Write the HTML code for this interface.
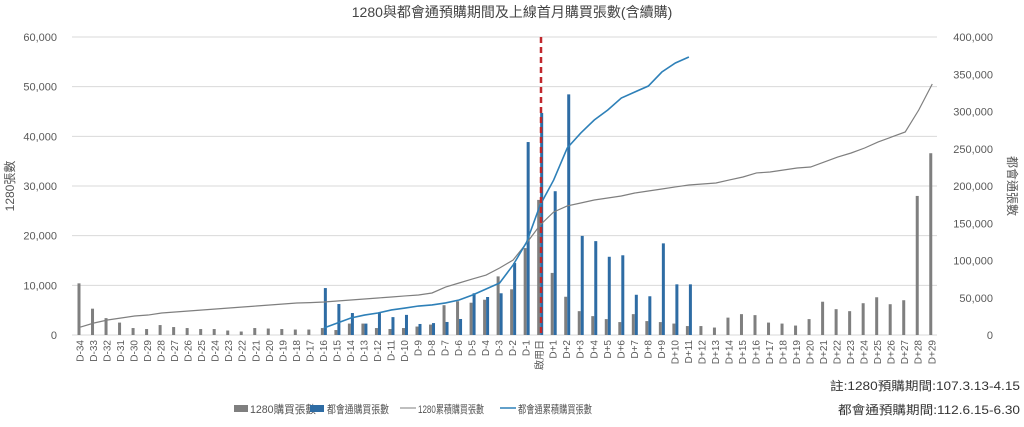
<!DOCTYPE html>
<html><head><meta charset="utf-8"><style>
body{margin:0;background:#fff;width:1024px;height:422px;overflow:hidden}
svg text{font-family:"Liberation Sans","Noto Sans CJK TC",sans-serif}
</style></head><body>
<svg id="c" width="1024" height="422" xmlns="http://www.w3.org/2000/svg">
<text x="512" y="17" text-anchor="middle" font-size="14" fill="#444">1280與都會通預購期間及上線首月購買張數(含續購)</text>
<text transform="translate(14,186) rotate(-90)" text-anchor="middle" font-size="12" fill="#555">1280張數</text>
<text transform="translate(1008,186) rotate(90)" text-anchor="middle" font-size="12" fill="#555">都會通張數</text>
<g id="grid"></g><g id="bars"></g><g id="lines"></g><g id="xl"></g>
<line x1="541" y1="37" x2="541" y2="335" stroke="#c0282d" stroke-width="2.5" stroke-dasharray="6,4"/>
<g font-size="11" fill="#555">
<rect x="234" y="405" width="14" height="7" fill="#7f7f7f"/>
<text x="250" y="413" textLength="66" lengthAdjust="spacingAndGlyphs">1280購買張數</text>
<rect x="310" y="405" width="14" height="7" fill="#2e6ca4"/>
<text x="327" y="413" textLength="62" lengthAdjust="spacingAndGlyphs">都會通購買張數</text>
<line x1="400" y1="408" x2="416" y2="408" stroke="#7f7f7f"/>
<text x="418" y="413" textLength="66" lengthAdjust="spacingAndGlyphs">1280累積購買張數</text>
<line x1="500" y1="408" x2="516" y2="408" stroke="#2e80b8" stroke-width="1.5"/>
<text x="518" y="413" textLength="74" lengthAdjust="spacingAndGlyphs">都會通累積購買張數</text>
</g>
<text x="830" y="390" font-size="12" fill="#333" textLength="190" lengthAdjust="spacingAndGlyphs">註:1280預購期間:107.3.13-4.15</text>
<text x="838" y="414" font-size="12" fill="#333" textLength="182" lengthAdjust="spacingAndGlyphs">都會通預購期間:112.6.15-6.30</text>
</svg>
<script>
const categories=[];for(let i=34;i>=1;i--)categories.push('D-'+i);categories.push('啟用日');for(let i=1;i<=29;i++)categories.push('D+'+i);
const leftTicks=[0,10000,20000,30000,40000,50000,60000];
const rightTicks=[0,50000,100000,150000,200000,250000,300000,350000,400000];
const daily1280=[10400,5300,3400,2500,1400,1200,2000,1600,1400,1200,1200,900,700,1400,1300,1200,1100,1100,1400,1000,2300,2300,1400,1200,1400,1700,2100,6000,6800,6500,7100,11800,9200,17500,27200,12500,7700,4800,3800,3200,2600,4200,2800,2600,2300,1800,1800,1500,3500,4200,4000,2500,2300,1900,3200,6700,5200,4800,6400,7600,6200,7000,28000,36600];
const metroStart=18;
const dailyMetro=[63000,41600,29500,15300,29500,24000,27000,14800,16000,17500,21500,56000,51000,56000,96600,259000,298000,193000,323000,133000,126000,105000,107000,54000,52000,123000,68000,68000];
const cum1280=[10700,16100,20100,22800,25500,26800,29500,30900,32200,33600,34900,36200,37600,38900,40300,41600,43000,43500,44300,45600,47000,48300,49700,51000,52400,53700,56400,64400,69800,75200,80500,89900,100700,123500,147700,165100,173200,177200,181200,183900,186600,190600,193300,196000,198700,201300,202700,204000,208100,212100,217500,218800,221500,224200,225500,232200,238900,244300,251000,259100,265800,272500,302000,336900];
const cumMetro=[9400,16100,22800,26800,29500,33600,36200,38900,40300,43000,47000,53700,61700,69800,94000,124800,174500,208100,251000,271100,288600,302000,318100,326200,334200,353000,365100,373200];
const NS='http://www.w3.org/2000/svg';
const X0=80.5,STEP=13.52,Y0=335,Y1=37;
const xAt=i=>X0+i*STEP;
const yL=v=>Y0-(v/60000)*(Y0-Y1);
const yR=v=>Y0-(v/400000)*(Y0-Y1);
function mk(tag,attrs,parent){const e=document.createElementNS(NS,tag);for(const k in attrs)e.setAttribute(k,attrs[k]);parent.appendChild(e);return e;}
const grid=document.getElementById('grid'),bars=document.getElementById('bars'),lines=document.getElementById('lines'),xl=document.getElementById('xl');
leftTicks.forEach(v=>{
  const g=mk('line',{x1:72,x2:937,y1:yL(v),y2:yL(v),stroke:'#d9d9d9'},grid);
  
  
  const t=mk('text',{x:57,y:yL(v)+4,'text-anchor':'end','font-size':11,fill:'#595959'},grid);
  
  
  t.textContent=v.toLocaleString('en-US');
});
rightTicks.forEach(v=>{
  const t=mk('text',{x:993,y:yR(v)+4,'text-anchor':'end','font-size':11,fill:'#595959'},grid);
  
  
  t.textContent=v.toLocaleString('en-US');
});
categories.forEach((c,i)=>{
  const t=mk('text',{transform:`translate(${xAt(i)+3},340) rotate(-90)`,'text-anchor':'end','font-size':10,fill:'#595959'},xl);
  
  
  t.textContent=c;
});
daily1280.forEach((v,i)=>{
  const r=mk('rect',{x:xAt(i)-3,y:yL(v),width:3,height:Y0-yL(v),fill:'#7f7f7f'},bars);
  
  
});
dailyMetro.forEach((v,j)=>{
  const i=j+metroStart;
  const r=mk('rect',{x:xAt(i),y:yR(v),width:3,height:Y0-yR(v),fill:'#2e6ca4'},bars);
  
  
});
const p1=mk('polyline',{points:cum1280.map((v,i)=>xAt(i)+','+yR(v)).join(' '),fill:'none',stroke:'#7f7f7f','stroke-width':1.2},lines);


const p2=mk('polyline',{points:cumMetro.map((v,j)=>xAt(j+metroStart)+','+yR(v)).join(' '),fill:'none',stroke:'#2e80b8','stroke-width':1.6},lines);


</script>
</body></html>
